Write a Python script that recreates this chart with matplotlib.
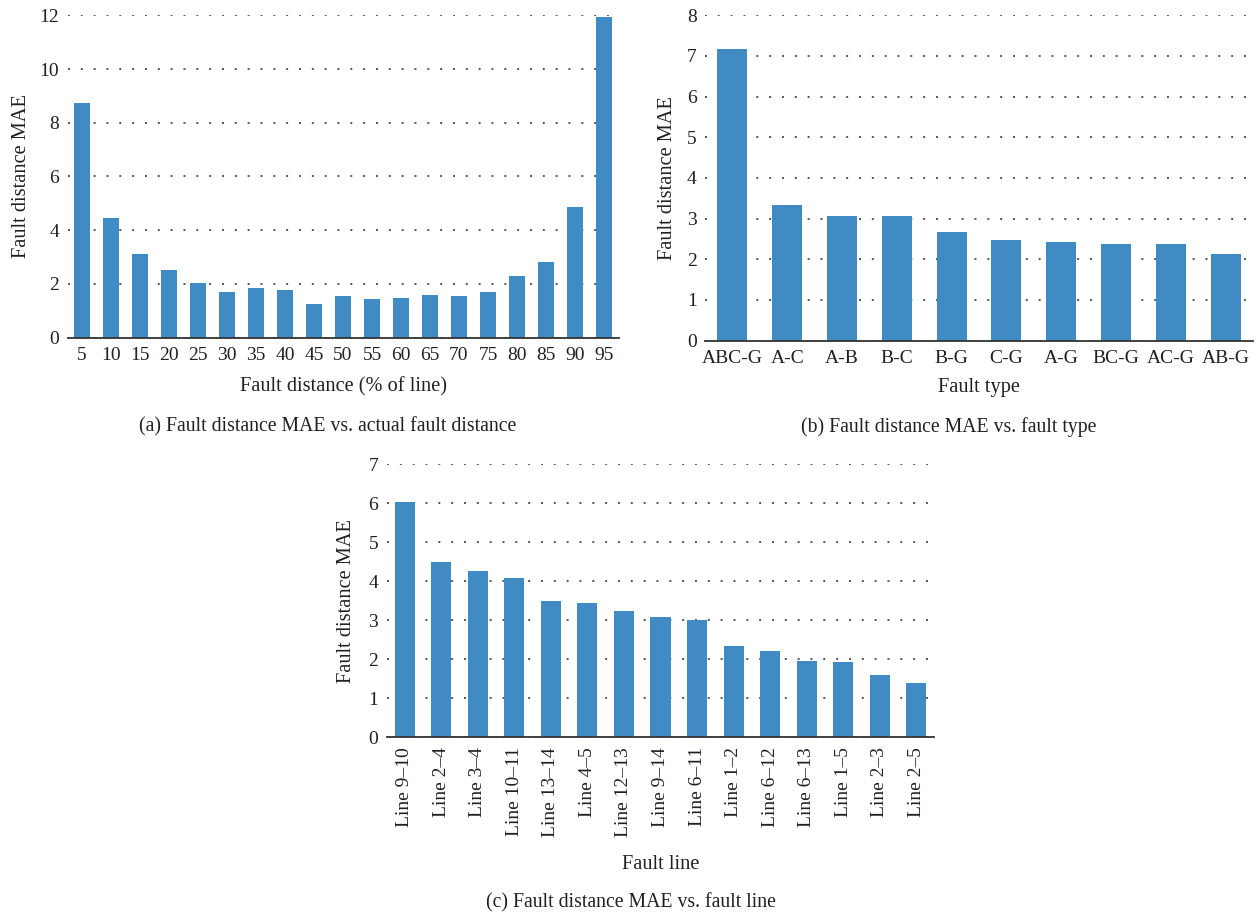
import numpy as np
import matplotlib.pyplot as plt

plt.rcParams["font.family"] = ["Liberation Serif", "DejaVu Serif"]
plt.rcParams["text.color"] = "#231f20"
plt.rcParams["axes.labelcolor"] = "#231f20"
plt.rcParams["xtick.color"] = "#231f20"
plt.rcParams["ytick.color"] = "#231f20"

# (a) MAE per actual fault distance
dist_labels = ["5", "10", "15", "20", "25", "30", "35", "40", "45", "50",
               "55", "60", "65", "70", "75", "80", "85", "90", "95"]
dist_mae = [8.72, 4.45, 3.11, 2.52, 2.03, 1.70, 1.85, 1.77, 1.25, 1.55,
            1.44, 1.48, 1.59, 1.55, 1.70, 2.30, 2.82, 4.86, 11.95]

# (b) MAE per fault type
type_labels = ["ABC-G", "A-C", "A-B", "B-C", "B-G", "C-G", "A-G", "BC-G", "AC-G", "AB-G"]
type_mae = [7.17, 3.33, 3.06, 3.06, 2.67, 2.47, 2.42, 2.37, 2.37, 2.13]

# (c) MAE per faulted line
line_labels = ["Line 9\u201310", "Line 2\u20134", "Line 3\u20134", "Line 10\u201311",
               "Line 13\u201314", "Line 4\u20135", "Line 12\u201313", "Line 9\u201314",
               "Line 6\u201311", "Line 1\u20132", "Line 6\u201312", "Line 6\u201313",
               "Line 1\u20135", "Line 2\u20133", "Line 2\u20135"]
line_mae = [6.03, 4.49, 4.26, 4.08, 3.49, 3.44, 3.23, 3.08, 3.00, 2.33,
            2.21, 1.95, 1.92, 1.59, 1.38]

BAR = "#418bc5"
W, H = 1257, 913
LABEL_FS = 14.7
TICK_FS = 14


def px_axes(fig, x0, x1, ytop, ybot):
    # axes placed from pixel coordinates (origin top-left)
    return fig.add_axes([x0 / W, 1 - ybot / H, (x1 - x0) / W, (ybot - ytop) / H])


def style(ax, labels, ymax, ystep, rot=0):
    x = np.arange(len(labels))
    ax.set_xlim(-0.5, len(labels) - 0.5)
    ax.set_ylim(0, ymax)
    ax.set_yticks(np.arange(0, ymax + 0.1, ystep))
    ax.set_xticks(x)
    if rot:
        ax.set_xticklabels(labels, rotation=90, ha="center", va="top")
    else:
        ax.set_xticklabels(labels)
    for s in ["left", "right", "top"]:
        ax.spines[s].set_visible(False)
    ax.spines["bottom"].set_color("#333333")
    ax.spines["bottom"].set_linewidth(1.3)
    ax.spines["bottom"].set_zorder(4)
    ax.tick_params(axis="both", length=0, labelsize=TICK_FS)
    ax.tick_params(axis="x", pad=7)
    ax.tick_params(axis="y", pad=6)
    ax.yaxis.grid(True, linestyle=(0, (1, 5.6)), linewidth=1.4, color="#555555")
    ax.set_axisbelow(True)
    return x


fig = plt.figure(figsize=(W / 100, H / 100), dpi=100)

ax_a = px_axes(fig, 67.5, 618.5, 15.3, 337.7)
x = style(ax_a, dist_labels, 12, 2)
ax_a.bar(x, dist_mae, width=0.55, color=BAR, zorder=3)
ax_a.set_ylabel("Fault distance MAE", fontsize=LABEL_FS, labelpad=6)
ax_a.set_xlabel("Fault distance (% of line)", fontsize=LABEL_FS, labelpad=9)

ax_b = px_axes(fig, 705, 1253, 15.3, 340.5)
x = style(ax_b, type_labels, 8, 1)
ax_b.bar(x, type_mae, width=0.55, color=BAR, zorder=3)
ax_b.set_ylabel("Fault distance MAE", fontsize=LABEL_FS, labelpad=7)
ax_b.set_xlabel("Fault type", fontsize=LABEL_FS, labelpad=8)

ax_c = px_axes(fig, 386.5, 934.5, 464.3, 737.3)
x = style(ax_c, line_labels, 7, 1, rot=90)
ax_c.bar(x, line_mae, width=0.55, color=BAR, zorder=3)
ax_c.set_ylabel("Fault distance MAE", fontsize=LABEL_FS, labelpad=9)
ax_c.set_xlabel("Fault line", fontsize=LABEL_FS, labelpad=13)

fig.text(328 / W, 1 - 427 / H, "(a) Fault distance MAE vs. actual fault distance",
         ha="center", va="center", fontsize=14.2)
fig.text(949 / W, 1 - 427 / H, "(b) Fault distance MAE vs. fault type",
         ha="center", va="center", fontsize=14.2)
fig.text(631 / W, 1 - 903 / H, "(c) Fault distance MAE vs. fault line",
         ha="center", va="center", fontsize=14.2)

fig.savefig("out.png", dpi=100)
